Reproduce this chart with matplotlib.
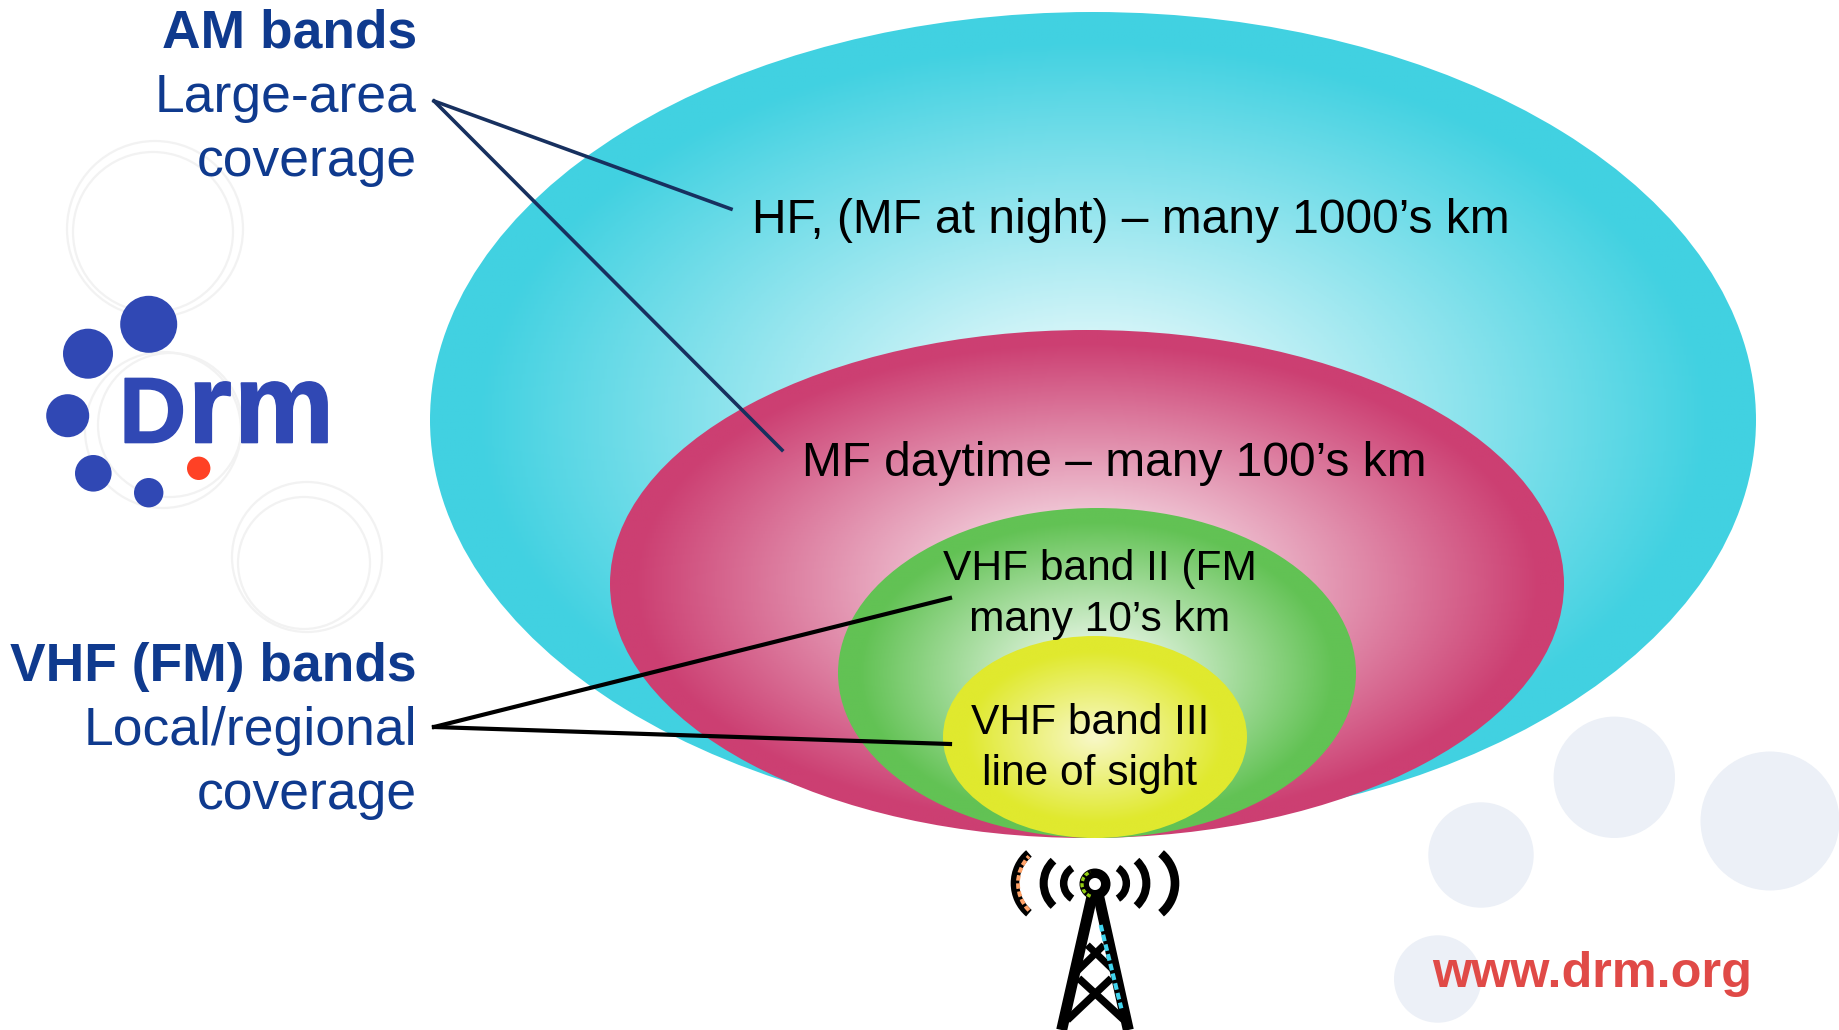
import matplotlib
matplotlib.use('Agg')
import matplotlib.pyplot as plt
from matplotlib.colors import LinearSegmentedColormap
from matplotlib.patches import Circle, Ellipse, Arc, Wedge
from matplotlib import patheffects as pe
import numpy as np

plt.rcParams['font.family'] = ['Liberation Sans', 'DejaVu Sans']

W, H = 1839, 1030
NAVY = '#0f3a8e'
LOGO = '#3048b4'

# coverage ellipses: cx, cy, rx, ry, edge colour, start of the full colour
ellipse_names = ['HF', 'MF', 'VHF II', 'VHF III']
ellipse_cx = [1093, 1087, 1097, 1095]
ellipse_cy = [420, 584, 673, 737]
ellipse_rx = [663, 477, 259, 152]
ellipse_ry = [408, 254, 165, 101]
ellipse_col = ['#41d1e1', '#cc3f72', '#62c254', '#e0e92e']
ellipse_end = [0.93, 0.95, 0.92, 0.85]
ellipse_mid = ['#ffffff', '#ffffff', '#ffffff', '#f8f8c8']

# logo dots
dot_x = [148.7, 88, 67.7, 93.3, 148.7]
dot_y = [324.3, 353.7, 415.7, 473.3, 492.7]
dot_r = [28.5, 25, 21.5, 18.3, 14.7]

# pale background dots
pale_x = [1614.3, 1770, 1481, 1437.7]
pale_y = [777.3, 821, 855, 979]
pale_r = [60.7, 69.5, 52.7, 43.7]

# faint rings
ring_x = [155, 153, 163, 170, 307, 304]
ring_y = [229, 232, 430, 425, 557, 563]
ring_r = [88, 80, 78, 72, 75, 66]

fig = plt.figure(figsize=(W / 100, H / 100), dpi=100, facecolor='white')
ax = fig.add_axes([0, 0, 1, 1])
ax.set_xlim(0, W)
ax.set_ylim(H, 0)
ax.axis('off')

for x, y, r in zip(ring_x, ring_y, ring_r):
    ax.add_patch(Circle((x, y), r, fill=False, ec='#f2f2f2', lw=1.6, zorder=1))
for x, y, r in zip(pale_x, pale_y, pale_r):
    ax.add_patch(Circle((x, y), r, fc='#ecf0f7', ec='none', zorder=1))

# gradient ellipses
for i in range(len(ellipse_cx)):
    cx, cy, rx, ry = ellipse_cx[i], ellipse_cy[i], ellipse_rx[i], ellipse_ry[i]
    gx, gy = np.meshgrid(np.linspace(-1, 1, 500), np.linspace(-1, 1, 500))
    t = np.sqrt(gx ** 2 + gy ** 2)
    cmap = LinearSegmentedColormap.from_list('g', [(0, ellipse_mid[i]), (ellipse_end[i], ellipse_col[i]), (1, ellipse_col[i])])
    im = ax.imshow(t, cmap=cmap, vmin=0, vmax=1, extent=[cx - rx, cx + rx, cy + ry, cy - ry], zorder=2 + i, aspect='auto')
    clip = Ellipse((cx, cy), 2 * rx, 2 * ry, transform=ax.transData)
    im.set_clip_path(clip)
ax.set_xlim(0, W)
ax.set_ylim(H, 0)

# logo
for x, y, r in zip(dot_x, dot_y, dot_r):
    ax.add_patch(Circle((x, y), r, fc=LOGO, ec='none', zorder=8))
ax.add_patch(Circle((198.7, 468.3), 11.7, fc='#ff4125', ec='none', zorder=8))
heavy = [pe.withStroke(linewidth=1.2, foreground=LOGO)]
ax.text(119, 442.5, 'D', color=LOGO, fontsize=67, family=['Liberation Sans'], weight='bold', ha='left', va='baseline', zorder=8, path_effects=heavy)
ax.text(188, 442.5, 'r', color=LOGO, fontsize=81, family=['Liberation Sans Narrow', 'Liberation Sans'], weight='bold', ha='left', va='baseline', zorder=8, path_effects=heavy)
ax.text(234, 442.5, 'm', color=LOGO, fontsize=81, family=['Liberation Sans Narrow', 'Liberation Sans'], weight='bold', ha='left', va='baseline', zorder=8, path_effects=heavy)

# callout lines
for xe, ye in [(731, 209), (782, 450)]:
    ax.plot([434, xe], [101, ye], color='#17305f', lw=2.6, zorder=9)
for xe, ye in [(950, 598), (950, 744)]:
    ax.plot([434, xe], [727, ye], color='black', lw=3, zorder=9)

# left labels
ax.text(417, 47, 'AM bands', color=NAVY, fontsize=38.4, weight='bold', ha='right', va='baseline', zorder=10)
ax.text(417, 112, 'Large-area', color=NAVY, fontsize=38.5, ha='right', va='baseline', zorder=10)
ax.text(417, 176, 'coverage', color=NAVY, fontsize=38.5, ha='right', va='baseline', zorder=10)
ax.text(417, 681, 'VHF (FM) bands', color=NAVY, fontsize=38.4, weight='bold', ha='right', va='baseline', zorder=10)
ax.text(417, 745, 'Local/regional', color=NAVY, fontsize=38.5, ha='right', va='baseline', zorder=10)
ax.text(417, 809, 'coverage', color=NAVY, fontsize=38.5, ha='right', va='baseline', zorder=10)

# ellipse labels
ax.text(752, 233, 'HF, (MF at night) – many 1000’s km', color='black', fontsize=34.5, ha='left', va='baseline', zorder=10)
ax.text(802, 475.5, 'MF daytime – many 100’s km', color='black', fontsize=34.5, ha='left', va='baseline', zorder=10)
ax.text(1100, 580, 'VHF band II (FM', color='black', fontsize=30.6, ha='center', va='baseline', zorder=10)
ax.text(1100, 631, 'many 10’s km', color='black', fontsize=30.6, ha='center', va='baseline', zorder=10)
ax.text(1090, 734, 'VHF band III', color='black', fontsize=30.6, ha='center', va='baseline', zorder=10)
ax.text(1090, 785, 'line of sight', color='black', fontsize=30.6, ha='center', va='baseline', zorder=10)

ax.text(1432, 987, 'www.drm.org', color='#e04a47', fontsize=36.3, weight='bold', ha='left', va='baseline', zorder=10)

# tower, zoom crop coords -> figure pixels
def zx(v):
    return 980 + v / 3
def zy(v):
    return 830 + v / 3

tower_lines = [
    ((338, 190), (245, 600), 11),
    ((354, 190), (445, 600), 11),
    ((322, 345), (405, 425), 7),
    ((372, 345), (290, 425), 7),
    ((296, 445), (432, 570), 7.5),
    ((394, 445), (262, 570), 7.5),
]
for a, b, w in tower_lines:
    ax.plot([zx(a[0]), zx(b[0])], [zy(a[1]), zy(b[1])], color='black', lw=w * 0.72, solid_capstyle='butt', zorder=10)
ax.plot([zx(362), zx(424)], [zy(285), zy(535)], color='#40d4ee', lw=3, linestyle=(0, (1.6, 0.8)), zorder=11)
ax.add_patch(Wedge((zx(345), zy(162)), 15.5, 0, 360, width=9.5, fc='black', ec='none', zorder=11))
ax.add_patch(Arc((zx(345), zy(162)), 26, 26, theta1=110, theta2=250, color='#95cf14', lw=2.4, linestyle=(0, (1.2, 0.7)), zorder=12))

# signal arcs: centre x offset, radius, half angle, width
arc_c = [40, 61, 123]
arc_r = [18, 31, 39]
arc_a = [58, 47, 50]
arc_w = [5.4, 5.8, 6.2]
for c, r, a, w in zip(arc_c, arc_r, arc_a, arc_w):
    ax.add_patch(Arc((zx(345 + c), zy(160)), 2 * r, 2 * r, theta1=-a, theta2=a, color='black', lw=w, zorder=10))
    ax.add_patch(Arc((zx(345 - c), zy(160)), 2 * r, 2 * r, theta1=180 - a, theta2=180 + a, color='black', lw=w, zorder=10))
ax.add_patch(Arc((zx(345 - 123) + 3, zy(160)), 78, 78, theta1=180 - 44, theta2=180 + 44, color='#ffa268', lw=2.8, linestyle=(0, (1.4, 0.7)), zorder=11))

fig.savefig('out.png', dpi=100, facecolor='white')
